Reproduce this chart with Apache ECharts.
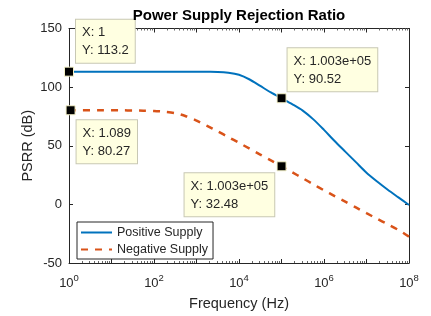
<!DOCTYPE html>
<html>
<head>
<meta charset="utf-8">
<script src="https://cdn.jsdelivr.net/npm/echarts@6/dist/echarts.min.js"></script>
<style>
  html, body { margin: 0; padding: 0; background: #fff; }
  #main { width: 431px; height: 316px; }
</style>
</head>
<body>
<div id="main"></div>
<script>
// frequency points, quarter decades from 1 Hz to 100 MHz
var freqs = [1, 1.778, 3.162, 5.623, 10, 17.78, 31.62, 56.23, 100, 177.8, 316.2, 562.3,
  1000, 1778, 3162, 5623, 1e4, 1.778e4, 3.162e4, 5.623e4, 1e5, 1.778e5, 3.162e5, 5.623e5,
  1e6, 1.778e6, 3.162e6, 5.623e6, 1e7, 1.778e7, 3.162e7, 5.623e7, 1e8];
var positiveDb = [113.2, 113.2, 113.2, 113.2, 113.2, 113.2, 113.2, 113.2, 113.2, 113.2, 113.2, 113.2,
  113.2, 113.1, 113.0, 112.3, 110.5, 106.5, 101.0, 95.5, 90.5, 85.5, 80.0, 72.5,
  63.5, 54.0, 45.0, 36.0, 27.0, 19.5, 12.5, 6.0, -0.5];
var negativeDb = [80.27, 80.27, 80.27, 80.27, 80.25, 80.2, 80.1, 79.9, 79.7, 79.0, 77.8, 75.2,
  71.5, 67.0, 62.3, 57.4, 52.5, 47.5, 42.5, 37.5, 32.5, 27.4, 22.3, 17.1,
  12.0, 7.1, 2.3, -2.6, -7.5, -12.3, -17.0, -21.8, -27.5];

// data tips: series index, x, y, x as printed
var tipSeries = [0, 1, 0, 1];
var tipX = [1, 1.089, 1.003e5, 1.003e5];
var tipY = [113.2, 80.27, 90.52, 32.48];
var tipXText = ['1', '1.089', '1.003e+05', '1.003e+05'];

var txt = '#262626';
var font = 'Liberation Sans, Arial, sans-serif';

// where each tip box sits relative to its marker
var tipPlace = [
  { verticalAlign: 'bottom', offset: [7, -9] },
  { verticalAlign: 'top', offset: [6, 10] },
  { verticalAlign: 'bottom', offset: [6, -7] },
  { verticalAlign: 'top', offset: [-97, 7] }
];

function tipsFor(s) {
  var out = [];
  for (var i = 0; i < tipX.length; i++) {
    if (tipSeries[i] !== s) continue;
    var p = tipPlace[i];
    out.push({
      coord: [tipX[i], tipY[i]],
      label: {
        show: true,
        position: 'inside',
        formatter: 'X: ' + tipXText[i] + '\nY: ' + tipY[i],
        align: 'left',
        verticalAlign: p.verticalAlign,
        offset: p.offset,
        color: txt,
        fontFamily: font,
        fontSize: 13,
        lineHeight: 18,
        backgroundColor: '#ffffe1',
        borderColor: '#c8c8b4',
        borderWidth: 1,
        padding: [4, 6, 3, 6]
      }
    });
  }
  return out;
}

function pairs(ys) {
  return freqs.map(function (f, i) { return [f, ys[i]]; });
}

var chart = echarts.init(document.getElementById('main'));

var logAxis = {
  type: 'log',
  logBase: 10,
  min: 1,
  max: 1e8,
  splitNumber: 8,
  axisLine: { show: true, onZero: false, lineStyle: { color: txt, width: 1 } },
  axisTick: { show: true, inside: true, length: 4, lineStyle: { color: txt } },
  minorTick: { show: true, splitNumber: 9, length: 2, lineStyle: { color: '#666' } },
  splitLine: { show: false }
};

var valAxis = {
  type: 'value',
  min: -50,
  max: 150,
  interval: 50,
  axisLine: { show: true, onZero: false, lineStyle: { color: txt, width: 1 } },
  axisTick: { show: true, inside: true, length: 4, lineStyle: { color: txt } },
  splitLine: { show: false }
};

chart.setOption({
  animation: false,
  backgroundColor: '#fff',
  title: {
    text: 'Power Supply Rejection Ratio',
    left: 239,
    textAlign: 'center',
    top: 8,
    padding: 0,
    textStyle: { fontFamily: font, fontSize: 15, fontWeight: 'bold', color: '#000' }
  },
  legend: {
    orient: 'vertical',
    left: 77,
    top: 222,
    padding: [4, 5, 3, 3],
    itemGap: 4,
    itemWidth: 31,
    itemHeight: 14,
    itemStyle: { opacity: 0 },
    backgroundColor: '#fff',
    borderColor: txt,
    borderWidth: 1,
    borderRadius: 0,
    textStyle: { fontFamily: font, fontSize: 12.5, color: txt },
    data: ['Positive Supply', 'Negative Supply']
  },
  grid: { left: 69, right: 22, top: 28.5, bottom: 53 },
  xAxis: [
    Object.assign({}, logAxis, {
      position: 'bottom',
      name: 'Frequency (Hz)',
      nameLocation: 'middle',
      nameGap: 33,
      nameMoveOverlap: false,
      nameTextStyle: { fontFamily: font, fontSize: 14.5, color: txt },
      axisLabel: {
        margin: 10,
        formatter: function (v) {
          var e = Math.round(Math.log10(v));
          if (e % 2) return '';
          return '{b|10}{s|' + e + '}';
        },
        rich: {
          b: { fontFamily: font, fontSize: 13, color: txt, verticalAlign: 'bottom' },
          s: { fontFamily: font, fontSize: 9.5, color: txt, verticalAlign: 'top' }
        },
        lineHeight: 17
      }
    }),
    Object.assign({}, logAxis, { position: 'top', axisLabel: { show: false } })
  ],
  yAxis: [
    Object.assign({}, valAxis, {
      position: 'left',
      name: 'PSRR (dB)',
      nameLocation: 'middle',
      nameGap: 34,
      nameMoveOverlap: false,
      nameTextStyle: { fontFamily: font, fontSize: 14.5, color: txt },
      axisLabel: { margin: 7, fontFamily: font, fontSize: 13, color: txt }
    }),
    Object.assign({}, valAxis, { position: 'right', axisLabel: { show: false } })
  ],
  series: [
    {
      name: 'Positive Supply',
      type: 'line',
      data: pairs(positiveDb),
      symbol: 'none',
      smooth: 0.3,
      color: '#0072bd',
      lineStyle: { color: '#0072bd', width: 2 },
      markPoint: {
        symbol: 'rect',
        symbolSize: 9,
        itemStyle: { color: '#000', borderColor: '#f4f1c8', borderWidth: 1, opacity: 1 },
        data: tipsFor(0)
      },
      z: 3
    },
    {
      name: 'Negative Supply',
      type: 'line',
      data: pairs(negativeDb),
      symbol: 'none',
      smooth: 0.3,
      color: '#d95319',
      lineStyle: { color: '#d95319', width: 2.5, type: [7, 7] },
      markPoint: {
        symbol: 'rect',
        symbolSize: 9,
        itemStyle: { color: '#000', borderColor: '#f4f1c8', borderWidth: 1, opacity: 1 },
        data: tipsFor(1)
      },
      z: 2
    }
  ]
});
</script>
</body>
</html>
